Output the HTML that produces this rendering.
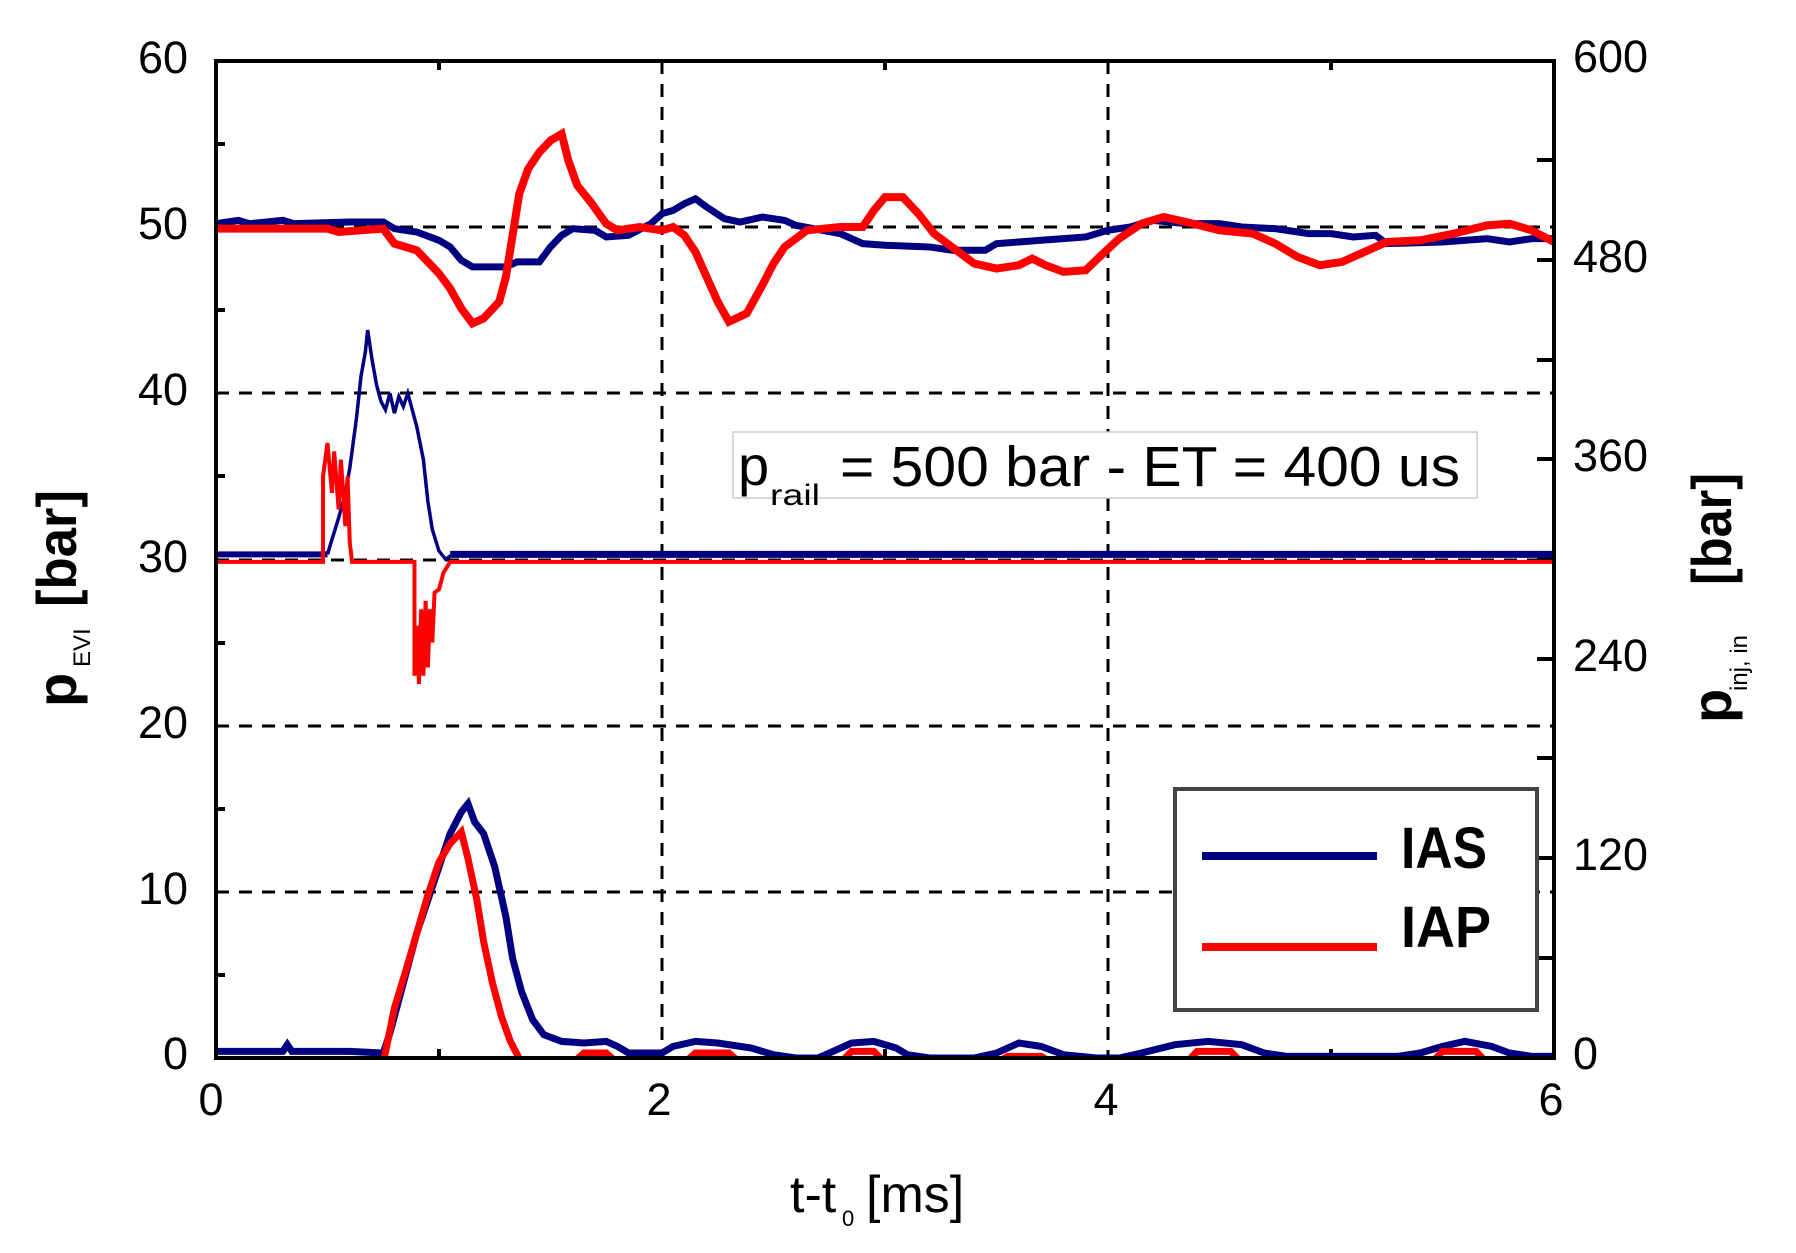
<!DOCTYPE html>
<html><head><meta charset="utf-8"><style>html,body{margin:0;padding:0;background:#fff}svg{display:block}</style></head>
<body>
<svg width="1796" height="1253" viewBox="0 0 1796 1253" xmlns="http://www.w3.org/2000/svg" font-family="Liberation Sans, sans-serif">
<defs><clipPath id="c"><rect x="216" y="61" width="1338" height="997"/></clipPath></defs>
<rect width="1796" height="1253" fill="#fff"/>
<g stroke="#000" stroke-width="3" stroke-dasharray="13,10" fill="none">
<line x1="216" y1="892" x2="1554" y2="892"/>
<line x1="216" y1="726" x2="1554" y2="726"/>
<line x1="216" y1="560" x2="1554" y2="560"/>
<line x1="216" y1="393" x2="1554" y2="393"/>
<line x1="216" y1="227" x2="1554" y2="227"/>
<line x1="662" y1="61" x2="662" y2="1058"/>
<line x1="1108" y1="61" x2="1108" y2="1058"/>
</g>
<g stroke="#000" stroke-width="4">
<line x1="216" y1="975" x2="225" y2="975"/><line x1="216" y1="809" x2="225" y2="809"/>
<line x1="216" y1="643" x2="225" y2="643"/><line x1="216" y1="476" x2="225" y2="476"/>
<line x1="216" y1="310" x2="225" y2="310"/><line x1="216" y1="144" x2="225" y2="144"/>
<line x1="1554" y1="958" x2="1537" y2="958"/><line x1="1554" y1="858" x2="1537" y2="858"/>
<line x1="1554" y1="758" x2="1537" y2="758"/><line x1="1554" y1="659" x2="1537" y2="659"/>
<line x1="1554" y1="559" x2="1537" y2="559"/><line x1="1554" y1="459" x2="1537" y2="459"/>
<line x1="1554" y1="360" x2="1537" y2="360"/><line x1="1554" y1="260" x2="1537" y2="260"/>
<line x1="1554" y1="160" x2="1537" y2="160"/>
<line x1="439" y1="61" x2="439" y2="70"/><line x1="885" y1="61" x2="885" y2="70"/><line x1="1331" y1="61" x2="1331" y2="70"/>
<line x1="439" y1="1058" x2="439" y2="1049"/><line x1="885" y1="1058" x2="885" y2="1049"/><line x1="1331" y1="1058" x2="1331" y2="1049"/>
</g>
<g clip-path="url(#c)" fill="none" stroke-linejoin="miter">
<g transform="translate(216,1058) scale(223,-16.62)">
<polyline vector-effect="non-scaling-stroke" stroke="#000080" stroke-width="7" points="0,50.2 0.1,50.4 0.15,50.2 0.3,50.4 0.35,50.2 0.6,50.3 0.75,50.3 0.8,49.9 0.9,49.7 1.0,49.2 1.05,48.8 1.1,48.0 1.15,47.6 1.3,47.6 1.35,47.9 1.45,47.9 1.5,48.8 1.55,49.5 1.6,49.9 1.7,49.8 1.75,49.4 1.85,49.5 1.95,50.2 2.0,50.8 2.05,51.0 2.1,51.4 2.15,51.7 2.2,51.2 2.28,50.5 2.35,50.3 2.45,50.6 2.55,50.4 2.6,50.1 2.8,49.6 2.9,49.0 3.0,48.9 3.2,48.8 3.3,48.6 3.45,48.6 3.5,49.0 3.6,49.1 3.7,49.2 3.9,49.4 4.0,49.8 4.1,50.0 4.2,50.4 4.35,50.2 4.5,50.2 4.6,50.0 4.75,49.9 4.9,49.6 5.0,49.6 5.1,49.4 5.2,49.5 5.25,49.0 5.5,49.1 5.7,49.3 5.8,49.1 5.9,49.3 6.0,49.3"/>
<polyline vector-effect="non-scaling-stroke" stroke="#ff0000" stroke-width="8" points="0,49.9 0.5,49.9 0.55,49.7 0.75,49.9 0.8,49.0 0.9,48.6 1.0,47.2 1.05,46.3 1.1,45.1 1.15,44.2 1.2,44.5 1.27,45.5 1.3,47.0 1.33,49.5 1.36,52.0 1.4,53.5 1.45,54.5 1.5,55.2 1.55,55.6 1.58,54.0 1.62,52.5 1.68,51.5 1.75,50.2 1.8,49.8 1.9,50.0 2.0,49.8 2.05,50.0 2.1,49.5 2.15,48.5 2.2,47.0 2.25,45.5 2.3,44.3 2.38,44.8 2.45,46.5 2.5,47.8 2.55,48.8 2.65,49.8 2.8,50.0 2.9,50.0 2.95,51.0 3.0,51.8 3.08,51.8 3.15,50.8 3.22,49.6 3.3,48.8 3.4,47.8 3.5,47.5 3.6,47.7 3.66,48.1 3.72,47.7 3.8,47.3 3.9,47.4 3.97,48.3 4.05,49.3 4.15,50.2 4.25,50.6 4.35,50.3 4.5,49.8 4.65,49.6 4.75,49.0 4.85,48.2 4.95,47.7 5.05,47.9 5.15,48.5 5.25,49.1 5.4,49.2 5.55,49.6 5.7,50.1 5.8,50.2 5.9,49.8 6.0,49.1"/>
<polyline vector-effect="non-scaling-stroke" stroke="#000080" stroke-width="6" points="0,30.3 0.5,30.3"/>
<polyline vector-effect="non-scaling-stroke" stroke="#000080" stroke-width="7" points="1.05,30.3 6,30.3"/>
<polyline vector-effect="non-scaling-stroke" stroke="#000080" stroke-width="3.5" points="0.5,30.3 0.52,31.2 0.55,32.5 0.58,34 0.6,35.5 0.63,38.5 0.65,41 0.67,42.5 0.68,43.8 0.7,42 0.72,40.5 0.74,39.5 0.76,39.0 0.78,40 0.8,38.8 0.82,39.8 0.84,39.2 0.86,40 0.88,39 0.9,38 0.93,36 0.95,33.5 0.97,31.8 1.0,30.5 1.03,30.0 1.06,30.3"/>
<polyline vector-effect="non-scaling-stroke" stroke="#ff0000" stroke-width="4" points="0,29.85 0.48,29.85 0.48,35 0.5,37 0.52,34 0.53,36.5 0.55,33 0.56,36 0.58,32 0.59,35 0.6,31 0.61,29.85 0.89,29.85 0.89,23 0.9,26 0.91,22.5 0.92,27 0.93,23 0.94,27.5 0.95,23.5 0.96,27 0.97,25 0.98,28 1.0,28.2 1.02,29.2 1.05,29.85 6,29.85"/>
<polyline vector-effect="non-scaling-stroke" stroke="#000080" stroke-width="7" points="0,0.4 0.3,0.4 0.32,0.8 0.34,0.4 0.6,0.4 0.75,0.3 0.78,1.5 0.82,3.5 0.86,5.5 0.9,7.5 0.95,9.5 1.0,11.5 1.05,13.5 1.1,14.8 1.13,15.3 1.16,14.2 1.2,13.5 1.25,11.5 1.3,8.5 1.33,6 1.37,4 1.42,2.3 1.47,1.4 1.55,1.0 1.65,0.9 1.75,1.0 1.8,0.7 1.85,0.3 2.0,0.3 2.05,0.7 2.15,1.0 2.25,0.9 2.4,0.6 2.5,0.2 2.6,0 2.7,0 2.75,0.3 2.85,0.9 2.95,1.0 3.05,0.6 3.1,0.2 3.2,0 3.4,0 3.5,0.3 3.6,0.9 3.7,0.7 3.8,0.2 3.95,0 4.05,0 4.15,0.3 4.3,0.8 4.45,1.0 4.6,0.8 4.7,0.3 4.8,0.1 5.3,0.1 5.4,0.3 5.5,0.7 5.6,1.0 5.72,0.7 5.8,0.3 5.9,0.1 6,0.1"/>
<polyline vector-effect="non-scaling-stroke" stroke="#ff0000" stroke-width="7" points="0,-0.3 0.75,-0.3 0.77,1 0.8,3 0.85,5.2 0.9,7.5 0.95,9.8 1.0,11.8 1.05,12.9 1.1,13.6 1.13,12 1.17,9.5 1.2,7 1.24,4.5 1.28,2.5 1.32,1.0 1.37,-0.3 1.6,-0.3 1.65,0.3 1.75,0.3 1.8,-0.3 2.1,-0.3 2.15,0.3 2.3,0.3 2.35,-0.3 2.8,-0.3 2.85,0.4 2.95,0.4 3.0,-0.3 3.5,-0.3 3.55,0.1 3.7,0.1 3.75,-0.3 4.35,-0.3 4.4,0.4 4.55,0.4 4.6,-0.3 5.45,-0.3 5.5,0.4 5.65,0.4 5.7,-0.3 6,-0.3"/>
</g>
</g>
<rect x="216" y="61" width="1338" height="997" fill="none" stroke="#000" stroke-width="4"/>
<rect x="733" y="432" width="744" height="66" fill="#fff" stroke="#ccc" stroke-width="1.5"/>
<text x="738" y="485" font-size="56" fill="#000">p</text>
<text x="770" y="505" font-size="30" fill="#000" textLength="50" lengthAdjust="spacingAndGlyphs">rail</text>
<text x="840" y="486" font-size="57" fill="#000" textLength="620" lengthAdjust="spacingAndGlyphs">= 500 bar - ET = 400 us</text>
<rect x="1175" y="789" width="362" height="221" fill="#fff" stroke="#444" stroke-width="4"/>
<line x1="1202" y1="856" x2="1377" y2="856" stroke="#000080" stroke-width="8"/>
<line x1="1202" y1="947" x2="1377" y2="947" stroke="#ff0000" stroke-width="8"/>
<text x="1401" y="868" font-size="58" font-weight="bold" textLength="86" lengthAdjust="spacingAndGlyphs">IAS</text>
<text x="1401" y="947" font-size="58" font-weight="bold" textLength="90" lengthAdjust="spacingAndGlyphs">IAP</text>
<g font-size="45" fill="#000" text-anchor="end">
<text x="188" y="73">60</text>
<text x="188" y="239">50</text>
<text x="188" y="405">40</text>
<text x="188" y="572">30</text>
<text x="188" y="738">20</text>
<text x="188" y="904">10</text>
<text x="188" y="1069">0</text>
</g>
<g font-size="45" fill="#000">
<text x="1573" y="72">600</text>
<text x="1573" y="272">480</text>
<text x="1573" y="471">360</text>
<text x="1573" y="671">240</text>
<text x="1573" y="870">120</text>
<text x="1573" y="1069">0</text>
</g>
<g font-size="45" fill="#000" text-anchor="middle">
<text x="211" y="1115">0</text>
<text x="659" y="1115">2</text>
<text x="1106" y="1115">4</text>
<text x="1551" y="1115">6</text>
</g>
<text x="790" y="1212" font-size="52">t-t</text>
<text x="842" y="1226" font-size="22">0</text>
<text x="866" y="1212" font-size="52">[ms]</text>
<g transform="translate(76,707) rotate(-90)">
<text x="0" y="0" font-size="56" font-weight="bold">p</text>
<text x="40" y="14" font-size="24">EVI</text>
<text x="100" y="0" font-size="56" font-weight="bold" textLength="117" lengthAdjust="spacingAndGlyphs">[bar]</text>
</g>
<g transform="translate(1731,723) rotate(-90)">
<text x="0" y="0" font-size="56" font-weight="bold">p</text>
<text x="32" y="16" font-size="24">inj, in</text>
<text x="138" y="0" font-size="56" font-weight="bold" textLength="112" lengthAdjust="spacingAndGlyphs">[bar]</text>
</g>
</svg>
</body></html>
